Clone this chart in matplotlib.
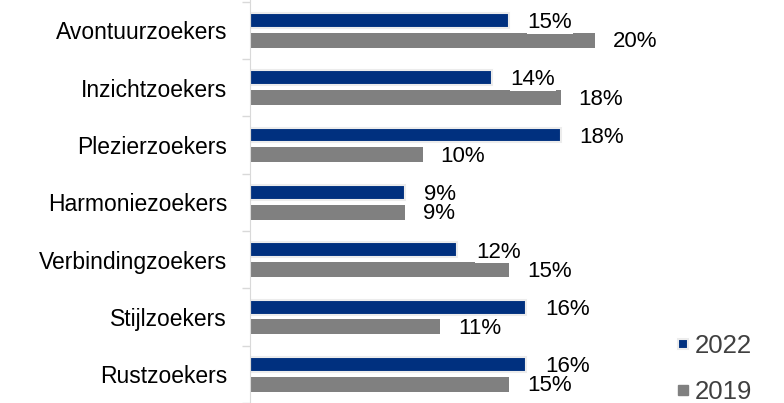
import matplotlib.pyplot as plt
from matplotlib.lines import Line2D
import numpy as np

plt.rcParams["font.family"] = ["Liberation Sans", "DejaVu Sans"]

categories = ["Avontuurzoekers", "Inzichtzoekers", "Plezierzoekers", "Harmoniezoekers",
              "Verbindingzoekers", "Stijlzoekers", "Rustzoekers"]
values_2022 = [15, 14, 18, 9, 12, 16, 16]
values_2019 = [20, 18, 10, 9, 15, 11, 15]

NAVY = "#00307f"
GRAY = "#808080"


def main():
    fig = plt.figure(figsize=(7.84, 4.03), dpi=100)
    ax = fig.add_axes([250 / 784, 0, 534 / 784, 1])

    y = np.arange(len(categories))
    off = 0.173
    h = 0.26

    ax.barh(y - off, values_2022, height=h, color=NAVY, edgecolor="#ececec",
            linewidth=1.5, zorder=2)
    ax.barh(y + off, values_2019, height=h, color=GRAY, zorder=2)

    # waardelabels met witte achtergrond
    for i in range(len(categories)):
        ax.text(values_2022[i] + 1.1, y[i] - off + 0.04, f"{values_2022[i]}%",
                va="center", ha="left", fontsize=16, color="black", zorder=3,
                bbox=dict(facecolor="white", edgecolor="none", pad=0.5))
        ax.text(values_2019[i] + 1.05, y[i] + off + 0.03, f"{values_2019[i]}%",
                va="center", ha="left", fontsize=16, color="black", zorder=4,
                bbox=dict(facecolor="white", edgecolor="none", pad=0.5))

    ax.set_xlim(0, 534 / 17.25)
    ax.set_ylim(-0.528 + 403 / 57.75, -0.528)

    ax.set_yticks(y)
    ax.set_yticklabels(categories, fontsize=16.5)
    ax.set_yticks(np.arange(-0.5, len(categories) + 0.5, 1), minor=True)
    ax.tick_params(axis="y", which="major", length=0, pad=16.5)
    ax.tick_params(axis="y", which="minor", length=6, color="#d9d9d9", width=1)
    ax.set_xticks([])

    for s in ["top", "right", "bottom"]:
        ax.spines[s].set_visible(False)
    ax.spines["left"].set_color("#d9d9d9")

    handles = [
        Line2D([], [], marker="s", linestyle="none", markersize=7, color=NAVY,
               markeredgecolor="#ececec", markeredgewidth=1.5),
        Line2D([], [], marker="s", linestyle="none", markersize=7, color=GRAY,
               markeredgecolor=GRAY),
    ]
    leg = fig.legend(handles, ["2022", "2019"], loc="upper left",
                     bbox_to_anchor=(665 / 784, 1 - 324 / 403), frameon=False,
                     fontsize=18.5, handlelength=0.6, handletextpad=0.15,
                     labelspacing=0.85, borderaxespad=0)
    for t in leg.get_texts():
        t.set_color("#404040")

    fig.savefig("out.png", dpi=100)


if __name__ == "__main__":
    main()
